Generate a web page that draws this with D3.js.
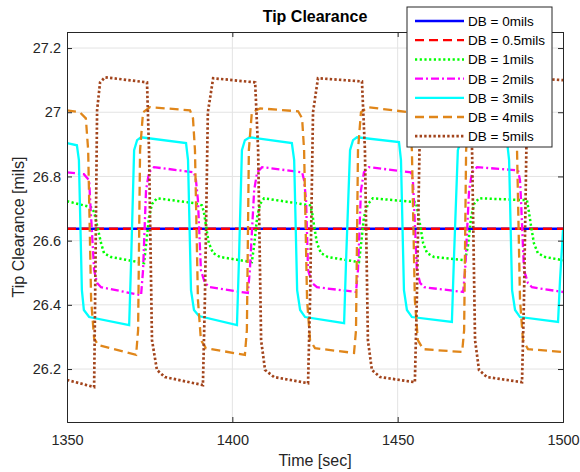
<!DOCTYPE html>
<html>
<head>
<meta charset="utf-8">
<script src="https://cdn.jsdelivr.net/npm/d3@7"></script>
<style>
  body { margin: 0; background: #fff; }
  text { font-family: "Liberation Sans", Arial, sans-serif; }
</style>
</head>
<body>
<svg id="chart"></svg>
<script>
// values, [time sec, clearance mils]
const db0 = [[1350, 26.637], [1500, 26.637]];
const db05 = [[1350, 26.637], [1500, 26.637]];
const db1 = [[1350.0,26.723],[1357.3,26.704],[1358.2,26.689],[1359.1,26.648],[1360.3,26.592],[1361.2,26.561],[1363.3,26.549],[1373.3,26.53],[1373.9,26.586],[1374.8,26.673],[1375.7,26.714],[1377.2,26.732],[1388.4,26.717],[1390.8,26.71],[1391.4,26.689],[1392.0,26.648],[1392.9,26.592],[1394.2,26.561],[1396.3,26.549],[1405.9,26.533],[1406.6,26.586],[1407.5,26.673],[1408.4,26.714],[1409.6,26.732],[1423.5,26.71],[1424.1,26.689],[1424.7,26.648],[1425.6,26.592],[1426.8,26.561],[1428.9,26.549],[1438.3,26.533],[1438.9,26.586],[1439.8,26.673],[1441.0,26.714],[1442.5,26.732],[1455.5,26.72],[1456.1,26.689],[1456.8,26.648],[1457.7,26.592],[1458.9,26.561],[1461.0,26.549],[1470.4,26.539],[1471.3,26.586],[1472.2,26.673],[1473.1,26.714],[1474.6,26.732],[1489.1,26.726],[1489.7,26.689],[1490.3,26.648],[1491.2,26.592],[1492.4,26.561],[1494.6,26.549],[1500.0,26.539]];
const db2 = [[1350.0,26.813],[1355.1,26.807],[1356.7,26.788],[1357.0,26.726],[1358.2,26.508],[1359.1,26.468],[1360.3,26.455],[1372.4,26.43],[1373.0,26.508],[1373.9,26.757],[1374.8,26.813],[1376.3,26.829],[1388.4,26.813],[1389.0,26.788],[1389.6,26.726],[1390.5,26.508],[1391.7,26.468],[1393.2,26.455],[1404.7,26.437],[1405.3,26.508],[1406.6,26.757],[1407.5,26.813],[1409.0,26.829],[1421.1,26.813],[1421.7,26.788],[1422.3,26.726],[1422.9,26.508],[1424.1,26.468],[1425.6,26.455],[1437.4,26.44],[1438.0,26.508],[1438.9,26.757],[1439.8,26.813],[1441.3,26.829],[1454.0,26.813],[1454.6,26.788],[1454.9,26.726],[1455.8,26.508],[1456.8,26.468],[1458.0,26.455],[1469.8,26.44],[1470.4,26.508],[1471.6,26.757],[1472.5,26.813],[1474.0,26.829],[1486.4,26.819],[1487.0,26.788],[1487.3,26.726],[1488.2,26.508],[1489.4,26.468],[1490.6,26.455],[1500.0,26.44]];
const db3 = [[1350.0,26.904],[1353.0,26.897],[1353.6,26.851],[1354.5,26.446],[1355.1,26.384],[1356.7,26.362],[1368.8,26.337],[1369.4,26.539],[1370.3,26.882],[1371.2,26.913],[1372.4,26.922],[1386.0,26.904],[1386.6,26.851],[1387.5,26.446],[1388.4,26.384],[1389.9,26.365],[1401.4,26.337],[1402.0,26.539],[1402.9,26.882],[1403.8,26.913],[1405.3,26.922],[1418.0,26.904],[1418.7,26.851],[1419.6,26.446],[1420.5,26.384],[1422.0,26.362],[1433.8,26.343],[1434.4,26.539],[1435.6,26.882],[1436.5,26.913],[1437.7,26.922],[1450.4,26.907],[1451.0,26.851],[1451.9,26.446],[1452.8,26.384],[1454.3,26.362],[1466.4,26.347],[1467.0,26.539],[1468.2,26.882],[1469.2,26.913],[1470.7,26.922],[1483.1,26.907],[1483.7,26.851],[1484.6,26.446],[1485.5,26.384],[1487.0,26.362],[1498.5,26.347],[1499.1,26.477],[1500.0,26.633]];
const db4 = [[1350.0,27.006],[1353.9,27.0],[1355.7,26.981],[1356.4,26.882],[1357.3,26.415],[1358.2,26.296],[1359.4,26.275],[1370.9,26.244],[1371.5,26.321],[1372.1,26.882],[1373.0,27.0],[1375.1,27.016],[1387.2,27.006],[1388.1,26.981],[1388.7,26.882],[1389.6,26.415],[1390.5,26.29],[1392.0,26.265],[1403.8,26.244],[1404.4,26.321],[1405.0,26.882],[1405.9,27.0],[1408.4,27.012],[1419.9,27.003],[1421.1,26.981],[1421.7,26.882],[1422.6,26.415],[1423.5,26.29],[1425.0,26.265],[1436.8,26.25],[1437.4,26.321],[1438.0,26.882],[1438.9,27.0],[1441.0,27.016],[1453.4,27.0],[1454.3,26.882],[1455.2,26.415],[1456.1,26.29],[1457.7,26.262],[1469.5,26.253],[1470.1,26.321],[1470.7,26.882],[1471.6,27.0],[1473.7,27.016],[1484.9,27.006],[1486.1,26.882],[1487.0,26.415],[1487.9,26.29],[1489.4,26.262],[1500.0,26.253]];
const db5 = [[1350.0,26.166],[1358.2,26.144],[1358.5,26.415],[1359.1,27.006],[1360.0,27.093],[1361.5,27.109],[1374.2,27.093],[1374.8,26.882],[1375.7,26.29],[1377.2,26.197],[1379.6,26.175],[1391.1,26.15],[1391.7,26.415],[1392.6,27.0],[1394.2,27.106],[1406.9,27.093],[1407.8,26.882],[1408.7,26.29],[1409.9,26.197],[1412.6,26.175],[1422.9,26.156],[1423.5,26.415],[1424.4,27.0],[1425.9,27.106],[1439.2,27.096],[1440.1,26.882],[1441.0,26.29],[1442.2,26.197],[1444.7,26.175],[1455.2,26.159],[1455.8,26.415],[1456.8,27.0],[1458.3,27.106],[1471.6,27.096],[1472.5,26.882],[1473.4,26.29],[1474.6,26.197],[1477.0,26.175],[1487.6,26.159],[1488.2,26.415],[1489.1,27.0],[1490.6,27.106],[1500.0,27.1]];

const seriesNames = ["DB = 0mils", "DB = 0.5mils", "DB = 1mils", "DB = 2mils", "DB = 3mils", "DB = 4mils", "DB = 5mils"];
const xTicks = [1350, 1400, 1450, 1500];
const yTicks = [26.2, 26.4, 26.6, 26.8, 27, 27.2];

const series = [
  { name: seriesNames[0], data: db0, color: "#0000ff", dash: null, w: 2.3 },
  { name: seriesNames[1], data: db05, color: "#ff0000", dash: "9,5", w: 2.3 },
  { name: seriesNames[2], data: db1, color: "#00ff00", dash: "2.2,2.5", w: 2.5 },
  { name: seriesNames[3], data: db2, color: "#ff00ff", dash: "8,3,2,3", w: 2.3 },
  { name: seriesNames[4], data: db3, color: "#00ffff", dash: null, w: 2.3 },
  { name: seriesNames[5], data: db4, color: "#e0861a", dash: "9,5", w: 2.3 },
  { name: seriesNames[6], data: db5, color: "#a2441c", dash: "2.4,2.2", w: 2.7 }
];

const width = 580, height = 472;
const margin = { top: 32, right: 17, bottom: 50, left: 67 };

const svg = d3.select("#chart")
    .attr("width", width)
    .attr("height", height);

const x = d3.scaleLinear()
    .domain([1350, 1500])
    .range([margin.left, width - margin.right]);

const y = d3.scaleLinear()
    .domain([26.035, 27.25])
    .range([height - margin.bottom, margin.top]);

const axisColor = "#262626";

// grid
svg.append("g")
    .selectAll("line")
    .data(xTicks.slice(1, -1))
    .enter().append("line")
    .attr("x1", d => x(d)).attr("x2", d => x(d))
    .attr("y1", margin.top).attr("y2", height - margin.bottom)
    .attr("stroke", "#e3e3e3").attr("stroke-width", 1);

svg.append("g")
    .selectAll("line")
    .data(yTicks)
    .enter().append("line")
    .attr("x1", margin.left).attr("x2", width - margin.right)
    .attr("y1", d => y(d)).attr("y2", d => y(d))
    .attr("stroke", "#e3e3e3").attr("stroke-width", 1);

svg.append("clipPath").attr("id", "clip")
  .append("rect")
    .attr("x", margin.left).attr("y", margin.top)
    .attr("width", width - margin.left - margin.right)
    .attr("height", height - margin.top - margin.bottom);

const line = d3.line()
    .x(d => x(d[0]))
    .y(d => y(d[1]));

svg.append("g")
    .attr("clip-path", "url(#clip)")
    .selectAll("path")
    .data(series)
    .enter().append("path")
    .attr("d", d => line(d.data))
    .attr("fill", "none")
    .attr("stroke", d => d.color)
    .attr("stroke-width", d => d.w)
    .attr("stroke-dasharray", d => d.dash);

// axes, MATLAB style ticks pointing inward
const tickLen = 5;
const plotH = height - margin.top - margin.bottom;

svg.append("g")
    .attr("transform", `translate(0,${height - margin.bottom})`)
    .call(d3.axisBottom(x).tickValues(xTicks).tickSize(-tickLen).tickPadding(13).tickFormat(d3.format("d")));
svg.append("g")
    .attr("transform", `translate(0,${margin.top})`)
    .call(d3.axisTop(x).tickValues(xTicks).tickSize(-tickLen).tickFormat(""));
svg.append("g")
    .attr("transform", `translate(${margin.left},0)`)
    .call(d3.axisLeft(y).tickValues(yTicks).tickSize(-tickLen).tickPadding(6).tickFormat(d => d3.format("")(+d.toFixed(1))));
svg.append("g")
    .attr("transform", `translate(${width - margin.right},0)`)
    .call(d3.axisRight(y).tickValues(yTicks).tickSize(-tickLen).tickFormat(""));

svg.selectAll(".domain").attr("stroke", axisColor).attr("stroke-width", 1);
svg.selectAll(".tick line").attr("stroke", axisColor);
svg.selectAll(".tick text")
    .attr("fill", axisColor)
    .style("font-size", "14.5px")
    .style("font-family", "'Liberation Sans', Arial, sans-serif");

// title and labels
svg.append("text")
    .attr("x", x(1425))
    .attr("y", 22)
    .attr("text-anchor", "middle")
    .style("font-size", "16px")
    .style("font-weight", "bold")
    .attr("fill", "#000")
    .text("Tip Clearance");

svg.append("text")
    .attr("x", x(1425))
    .attr("y", 466)
    .attr("text-anchor", "middle")
    .style("font-size", "16px")
    .attr("fill", axisColor)
    .text("Time [sec]");

svg.append("text")
    .attr("transform", `translate(24,${margin.top + plotH / 2}) rotate(-90)`)
    .attr("text-anchor", "middle")
    .style("font-size", "16px")
    .attr("fill", axisColor)
    .text("Tip Clearance [mils]");

// legend
const legend = svg.append("g").attr("transform", "translate(407,7)");
legend.append("rect")
    .attr("width", 145).attr("height", 140)
    .attr("fill", "#fff")
    .attr("stroke", axisColor).attr("stroke-width", 1);

const rows = legend.selectAll(".row")
    .data(series)
    .enter().append("g")
    .attr("transform", (d, i) => `translate(0,${14 + i * 19.2})`);

rows.append("line")
    .attr("x1", 8).attr("x2", 57)
    .attr("stroke", d => d.color)
    .attr("stroke-width", d => d.w)
    .attr("stroke-dasharray", d => d.dash);

rows.append("text")
    .attr("x", 61)
    .attr("y", 5)
    .style("font-size", "13.5px")
    .attr("fill", "#000")
    .text(d => d.name);
</script>
</body>
</html>
